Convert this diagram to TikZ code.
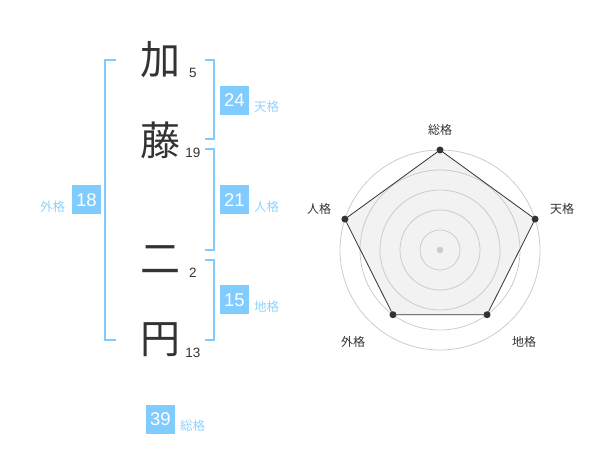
\documentclass[tikz,border=0pt]{standalone}
\usepackage{fontspec}
\usepackage{tikz}
\setmainfont{Liberation Sans}
\newfontfamily\jpfont{Noto Sans CJK JP}
\usetikzlibrary{positioning}
\definecolor{ink}{HTML}{333333}
\definecolor{kakublue}{HTML}{80CCFF}
\definecolor{kakutext}{HTML}{8FD3FF}
\definecolor{gridgray}{HTML}{CCCCCC}
\definecolor{radarfill}{HTML}{F2F2F2}

\begin{document}
\begin{tikzpicture}[x=1pt,y=-1pt,node distance=80pt,semithick]
\tikzstyle{every node}=[inner sep=0pt,outer sep=0pt]
\tikzstyle{kanji}=[text=ink,font=\jpfont\fontsize{40}{40}\selectfont]
\tikzstyle{strokes}=[text=ink,font=\fontsize{13.5}{13.5}\selectfont,anchor=base]
\tikzstyle{kakubox}=[fill=kakublue,text=white,minimum size=29pt,font=\fontsize{18.5}{18.5}\selectfont]
\tikzstyle{kakulabel}=[text=kakutext,font=\jpfont\fontsize{12.5}{12.5}\selectfont]
\tikzstyle{bracket}=[draw=kakublue,line width=2pt]
\tikzstyle{axis}=[text=ink,font=\jpfont\fontsize{12}{12}\selectfont]
\tikzstyle{ring}=[draw=gridgray,line width=0.8pt]
\tikzstyle{dot}=[circle,fill=ink,minimum size=7pt]
\useasboundingbox (0,0) rectangle (600,470);

% name
\node [kanji] (k1) at (160,60) {加};
\node [kanji] [below of=k1] (k2) {藤};
\node [kanji] [below of=k2,yshift=-40pt] (k3) {二};
\node [kanji] [below of=k3] (k4) {円};
\node [strokes] (s1) at (193,77.5) {5};
\node [strokes] (s2) at (193,157.5) {19};
\node [strokes] (s3) at (193,277.5) {2};
\node [strokes] (s4) at (193,357.5) {13};

% brackets
\coordinate (ten1) at (205,60);
\coordinate (ten2) at (205,139);
\coordinate (jin1) at (205,149);
\coordinate (jin2) at (205,250);
\coordinate (chi1) at (205,260);
\coordinate (chi2) at (205,340);
\coordinate (gai1) at (116,60);
\coordinate (gai2) at (116,340);
\draw [bracket] (ten1) -- ++(9,0) |- (ten2);
\draw [bracket] (jin1) -- ++(9,0) |- (jin2);
\draw [bracket] (chi1) -- ++(9,0) |- (chi2);
\draw [bracket] (gai1) -- ++(-11,0) |- (gai2);

% values
\node [kakubox] (ten) at (234.5,100.5) {24};
\node [kakubox] (jin) at (234.5,200) {21};
\node [kakubox] (chi) at (234.5,300) {15};
\node [kakubox] (gai) at (86.5,200) {18};
\node [kakubox] (sou) at (160.5,419) {39};
\node [kakulabel,anchor=base west] [right=5pt of ten.base east] {天格};
\node [kakulabel,anchor=base west] [right=5pt of jin.base east] {人格};
\node [kakulabel,anchor=base west] [right=5pt of chi.base east] {地格};
\node [kakulabel,anchor=base west] [right=5pt of sou.base east] {総格};
\node [kakulabel,anchor=base east] [left=7pt of gai.base west] {外格};

% radar
\coordinate (C) at (440,250);
\coordinate (p1) at ([shift={(-90:100)}]C);
\coordinate (p2) at ([shift={(-18:100)}]C);
\coordinate (p3) at ([shift={(54:80)}]C);
\coordinate (p4) at ([shift={(126:80)}]C);
\coordinate (p5) at ([shift={(198:100)}]C);
\fill [radarfill] (p1) -- (p2) -- (p3) -- (p4) -- (p5) -- cycle;
\draw [ring] (C) circle [radius=20];
\draw [ring] (C) circle [radius=40];
\draw [ring] (C) circle [radius=60];
\draw [ring] (C) circle [radius=80];
\draw [ring] (C) circle [radius=100];
\node [circle,fill=gridgray,minimum size=6.5pt] (o) at (C) {};
\node [dot] (v1) at (p1) {};
\node [dot] (v2) at (p2) {};
\node [dot] (v3) at (p3) {};
\node [dot] (v4) at (p4) {};
\node [dot] (v5) at (p5) {};
\draw [ink,line width=0.8pt] (v1) -- (v2) -- (v3) -- (v4) -- (v5) -- (v1);
\node [axis] (a1) at (440,130) {総格};
\node [axis] (a2) at (562,209) {天格};
\node [axis] (a3) at (319,209) {人格};
\node [axis] (a4) at (524,342) {地格};
\node [axis] (a5) at (353,342) {外格};
\end{tikzpicture}
\end{document}
